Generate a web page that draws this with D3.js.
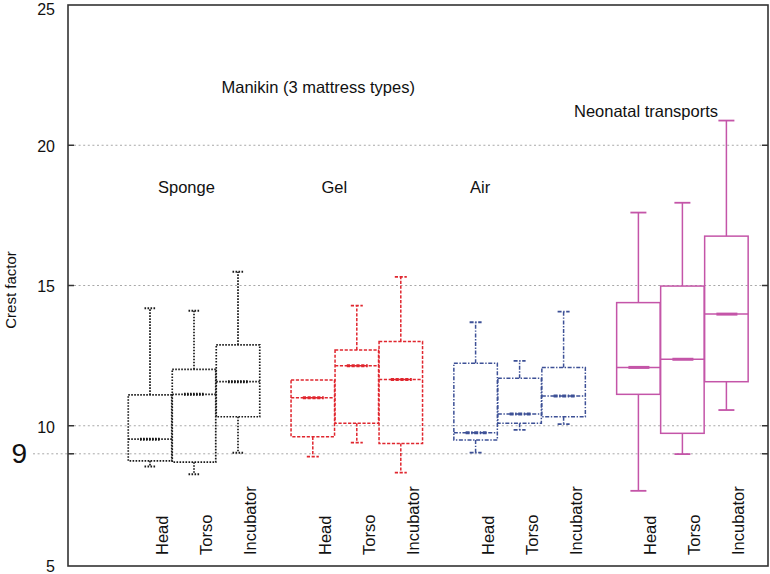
<!DOCTYPE html>
<html>
<head>
<meta charset="utf-8">
<script src="https://cdn.jsdelivr.net/npm/d3@7"></script>
<style>
  html, body { margin: 0; padding: 0; background: #fff; }
  svg { display: block; font-family: "Liberation Sans", Arial, sans-serif; }
</style>
</head>
<body>
<svg id="chart" width="770" height="574"></svg>
<script>
// ---------- data ----------
const groups = ["Sponge", "Gel", "Air", "Neonatal transports"];
const categories = ["Head", "Torso", "Incubator"];
// one entry per box, in order: Sponge(H,T,I), Gel(H,T,I), Air(H,T,I), Neonatal(H,T,I)
const whiskerLow  = [8.55, 8.27, 9.04,  8.90, 9.40, 8.33,  9.04, 9.85, 10.06,  7.68, 8.99, 10.56];
const q1          = [8.75, 8.70, 10.32, 9.61, 10.09, 9.37, 9.49, 10.09, 10.32, 11.12, 9.73, 11.57];
const medians     = [9.52, 11.12, 11.57, 11.00, 12.14, 11.65, 9.75, 10.42, 11.06, 12.08, 12.37, 13.98];
const q3          = [11.10, 12.01, 12.88, 11.63, 12.70, 13.00, 12.23, 11.69, 12.08, 14.39, 14.98, 16.76];
const whiskerHigh = [14.19, 14.10, 15.49, 11.63, 14.28, 15.31, 13.69, 12.31, 14.07, 17.60, 17.95, 20.88];
const yTicks = [5, 10, 15, 20, 25];
const gridValues = [9, 10, 15, 20];
const yLabel = "Crest factor";
const titleManikin = "Manikin (3 mattress types)";

// ---------- styles ----------
const groupStyles = [
  { color: "#1a1a1a", dash: "1.6,1.4", width: 1.7, cap: 11 },
  { color: "#e0262e", dash: "3.2,1.6", width: 1.5, cap: 12 },
  { color: "#3d5096", dash: "4,1.6,1.4,1.6", width: 1.5, cap: 12 },
  { color: "#c455a8", dash: null, width: 1.5, cap: 16 }
];

const svg = d3.select("#chart");
const pLeft = 68, pRight = 768, pTop = 5, pBottom = 566;

const y = d3.scaleLinear().domain([5, 25]).range([pBottom, pTop]);
const x = d3.scaleLinear().domain([0, 13.1]).range([150, 726.4]);
const boxW = 43.5;

// gridlines
const grid = svg.append("g");
gridValues.forEach(v => {
  grid.append("line")
    .attr("x1", v === 9 ? 33 : pLeft + 6).attr("x2", pRight - 6)
    .attr("y1", y(v)).attr("y2", y(v))
    .attr("stroke", "#a8a8a8").attr("stroke-width", 1)
    .attr("stroke-dasharray", "2,2.6");
  grid.append("line").attr("x1", pLeft).attr("x2", pLeft + 6)
    .attr("y1", y(v)).attr("y2", y(v)).attr("stroke", "#333").attr("stroke-width", 1.5);
  grid.append("line").attr("x1", pRight - 6).attr("x2", pRight)
    .attr("y1", y(v)).attr("y2", y(v)).attr("stroke", "#333").attr("stroke-width", 1.5);
});

// frame
svg.append("rect")
  .attr("x", pLeft).attr("y", pTop)
  .attr("width", pRight - pLeft).attr("height", pBottom - pTop)
  .attr("fill", "none").attr("stroke", "#333").attr("stroke-width", 1.6);

// y tick labels (kept inside the picture at the ends)
svg.append("g").selectAll("text").data(yTicks).join("text")
  .attr("x", 55).attr("y", d => Math.min(572, Math.max(15, y(d) + 6.8)))
  .attr("text-anchor", "end")
  .attr("font-size", 16).attr("fill", "#111")
  .text(d => d);
svg.append("text")
  .attr("x", 27).attr("y", y(9) + 9.5)
  .attr("text-anchor", "end")
  .attr("font-size", 28).attr("fill", "#111")
  .text("9");

// y axis label
svg.append("text")
  .attr("transform", `translate(16,${290}) rotate(-90)`)
  .attr("text-anchor", "middle")
  .attr("font-size", 15).attr("fill", "#111")
  .text(yLabel);

// boxes
const boxes = [];
groups.forEach((g, gi) => {
  categories.forEach((c, ci) => {
    const i = gi * 3 + ci;
    boxes.push({
      group: gi, cat: c, pos: gi * 3.7 + ci,
      lo: whiskerLow[i], q1: q1[i], med: medians[i], q3: q3[i], hi: whiskerHigh[i]
    });
  });
});

const bg = svg.append("g");
boxes.forEach(b => {
  const s = groupStyles[b.group];
  const cx = x(b.pos);
  const gEl = bg.append("g")
    .attr("stroke", s.color).attr("fill", "none")
    .attr("stroke-width", s.width);
  const dash = s.dash;
  const line = (x1, y1, x2, y2, w, d) => gEl.append("line")
    .attr("x1", x1).attr("y1", y1).attr("x2", x2).attr("y2", y2)
    .attr("stroke-width", w || s.width)
    .attr("stroke-dasharray", d === undefined ? dash : d);
  if (b.hi > b.q3) {
    line(cx, y(b.q3), cx, y(b.hi));
    line(cx - s.cap / 2, y(b.hi), cx + s.cap / 2, y(b.hi), s.width + 0.3);
  }
  if (b.lo < b.q1) {
    line(cx, y(b.q1), cx, y(b.lo));
    line(cx - s.cap / 2, y(b.lo), cx + s.cap / 2, y(b.lo), s.width + 0.3);
  }
  gEl.append("rect")
    .attr("x", cx - boxW / 2).attr("y", y(b.q3))
    .attr("width", boxW).attr("height", y(b.q1) - y(b.q3))
    .attr("stroke-dasharray", dash);
  line(cx - boxW / 2, y(b.med), cx + boxW / 2, y(b.med));
  line(cx - 10, y(b.med), cx + 11, y(b.med), 3);
});

// category labels (rotated)
svg.append("g").selectAll("text").data(boxes).join("text")
  .attr("transform", d => `translate(${x(d.pos) + 18},555) rotate(-90)`)
  .attr("text-anchor", "start")
  .attr("font-size", 16.5).attr("fill", "#111")
  .text(d => d.cat);

// annotations
const ann = [
  { t: titleManikin, x: 221.5, y: 93 },
  { t: groups[0], x: 158, y: 193 },
  { t: groups[1], x: 321.5, y: 193 },
  { t: "Air", x: 470, y: 193 },
  { t: groups[3], x: 574, y: 117 }
];
svg.append("g").selectAll("text").data(ann).join("text")
  .attr("x", d => d.x).attr("y", d => d.y)
  .attr("font-size", 16.5).attr("fill", "#111")
  .text(d => d.t);
</script>
</body>
</html>
